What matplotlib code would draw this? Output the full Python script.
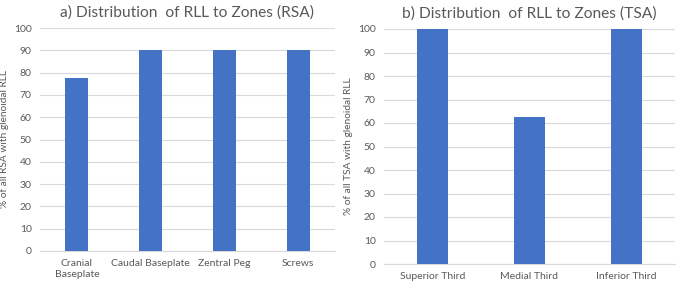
import matplotlib
matplotlib.use('Agg')
from matplotlib import pyplot as plt
import numpy as np

plt.rcParams['font.family'] = ['Lato', 'DejaVu Sans']

rsa_labels = ['Cranial\nBaseplate', 'Caudal Baseplate', 'Zentral Peg', 'Screws']
rsa_values = [77.8, 90.0, 90.0, 90.0]

tsa_labels = ['Superior Third', 'Medial Third', 'Inferior Third']
tsa_values = [100.0, 62.5, 100.0]

BAR = '#4472C4'
TXT = '#595959'
GRID = '#D9D9D9'


def panel(ax, labels, values, title, ylabel, width):
    x = np.arange(len(values))
    ax.bar(x, values, width=width, color=BAR, zorder=3)
    ax.set_xlim(-0.5, len(values) - 0.5)
    ax.set_ylim(0, 100)
    ax.set_yticks(np.arange(0, 101, 10))
    ax.set_xticks(x)
    ax.set_xticklabels(labels, fontsize=7.5, color=TXT, linespacing=1.3)
    ax.tick_params(axis='y', labelsize=7.5, labelcolor=TXT, length=0, pad=6)
    ax.tick_params(axis='x', length=0, pad=6)
    ax.yaxis.grid(True, color=GRID, linewidth=0.8, zorder=0)
    for s in ['top', 'right', 'left']:
        ax.spines[s].set_visible(False)
    ax.spines['bottom'].set_color(GRID)
    ax.spines['bottom'].set_linewidth(0.8)
    ax.set_title(title, fontsize=11.2, color=TXT, pad=8)
    ax.set_ylabel(ylabel, fontsize=7.3, color=TXT)


fig = plt.figure(figsize=(6.76, 2.84), dpi=100)
ax1 = fig.add_axes([40 / 676, 1 - 251 / 284, 295 / 676, 223 / 284])
ax2 = fig.add_axes([384 / 676, 1 - 264 / 284, 291 / 676, 235 / 284])

panel(ax1, rsa_labels, rsa_values, 'a) Distribution  of RLL to Zones (RSA)',
      '% of all RSA with glenoidal RLL', 0.31)
panel(ax2, tsa_labels, tsa_values, 'b) Distribution  of RLL to Zones (TSA)',
      '% of all TSA with glenoidal RLL', 0.32)

ax1.yaxis.set_label_coords(-31 / 295, 0.5)
ax2.yaxis.set_label_coords(-31 / 291, 0.5)

fig.savefig('out.png', dpi=100)
